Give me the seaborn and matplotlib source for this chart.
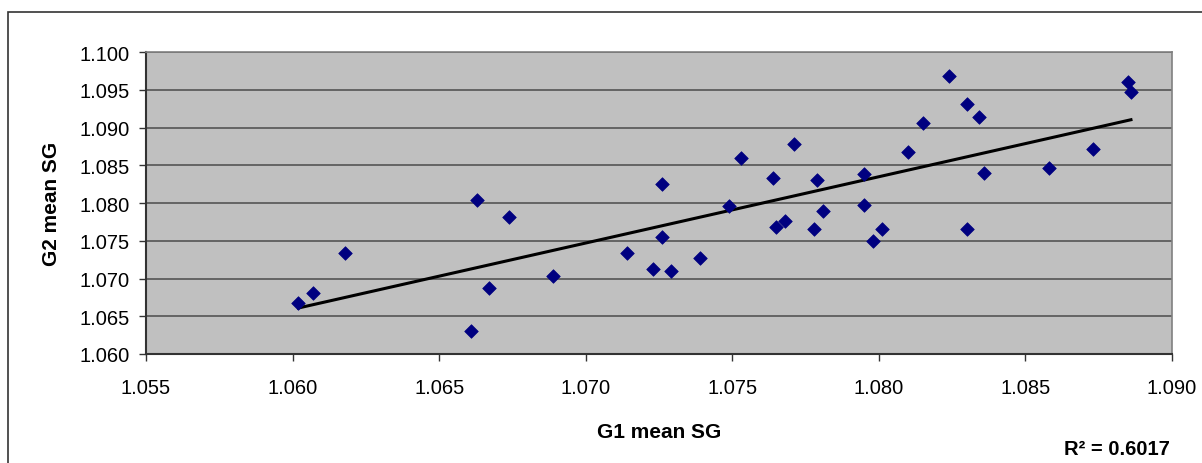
import numpy as np
import pandas as pd
import matplotlib.pyplot as plt
import matplotlib.patches as patches
import seaborn as sns

# 数据：G1 / G2 平均比重
g1_mean = [1.0602, 1.0607, 1.0618, 1.0663, 1.0661, 1.0667, 1.0674, 1.0689, 1.0714, 1.0723,
           1.0726, 1.0726, 1.0729, 1.0739, 1.0749, 1.0753, 1.0764, 1.0765, 1.0768, 1.0771,
           1.0779, 1.0778, 1.0781, 1.0795, 1.0795, 1.0798, 1.0801, 1.0810, 1.0815, 1.0824,
           1.0830, 1.0830, 1.0834, 1.0836, 1.0858, 1.0873, 1.0885, 1.0886]
g2_mean = [1.0668, 1.0681, 1.0734, 1.0804, 1.0631, 1.0687, 1.0782, 1.0703, 1.0734, 1.0713,
           1.0825, 1.0755, 1.0710, 1.0727, 1.0796, 1.0859, 1.0833, 1.0768, 1.0776, 1.0878,
           1.0830, 1.0766, 1.0790, 1.0838, 1.0798, 1.0750, 1.0766, 1.0867, 1.0906, 1.0968,
           1.0931, 1.0766, 1.0914, 1.0840, 1.0846, 1.0872, 1.0960, 1.0947]
r2_text = 'R² = 0.6017'

df = pd.DataFrame({'G1': g1_mean, 'G2': g2_mean})

plt.rcParams['font.family'] = ['Liberation Sans', 'DejaVu Sans']
fig = plt.figure(figsize=(12.02, 4.64), dpi=100)
ax = fig.add_axes([146/1202, 1-355/464, (1172-146)/1202, (355-53)/464])

# 外框
fig.patches.append(patches.Rectangle((8/1202, -0.05), 1.2, 1-13/464+0.05, transform=fig.transFigure,
                                     fill=False, edgecolor='#333333', linewidth=1.2))

ax.set_facecolor('#C0C0C0')
ax.set_axisbelow(True)
ax.grid(axis='y', color='#555555', linewidth=1.2)
ax.grid(axis='x', visible=False)

# 趋势线（线性回归）
sns.regplot(data=df, x='G1', y='G2', ax=ax, scatter=False, ci=None,
            line_kws={'color': 'black', 'linewidth': 2.2})
sns.scatterplot(data=df, x='G1', y='G2', ax=ax, marker='D', s=48, color='#000080',
                edgecolor='#000080', linewidth=0.5, zorder=3)

ax.set_xlim(1.055, 1.090)
ax.set_ylim(1.060, 1.100)
ax.set_xticks(np.arange(1.055, 1.0901, 0.005))
ax.set_yticks(np.arange(1.060, 1.1001, 0.005))
ax.xaxis.set_major_formatter(plt.FormatStrFormatter('%.3f'))
ax.yaxis.set_major_formatter(plt.FormatStrFormatter('%.3f'))
ax.tick_params(axis='both', labelsize=14.5, length=5, width=1, color='#333333', direction='out')
ax.tick_params(axis='x', pad=12)
ax.tick_params(axis='y', pad=7)

for s in ['top', 'right']:
    ax.spines[s].set_color('#808080')
    ax.spines[s].set_linewidth(1.2)
for s in ['left', 'bottom']:
    ax.spines[s].set_color('#333333')
    ax.spines[s].set_linewidth(1.5)

ax.set_xlabel('G1 mean SG', fontsize=15, fontweight='bold', labelpad=18)
ax.set_ylabel('G2 mean SG', fontsize=15, fontweight='bold', labelpad=13)

fig.text(1170/1202, 1-450/464, r2_text, fontsize=14.5, fontweight='bold', ha='right', va='center')

plt.savefig('out.png', dpi=100)
